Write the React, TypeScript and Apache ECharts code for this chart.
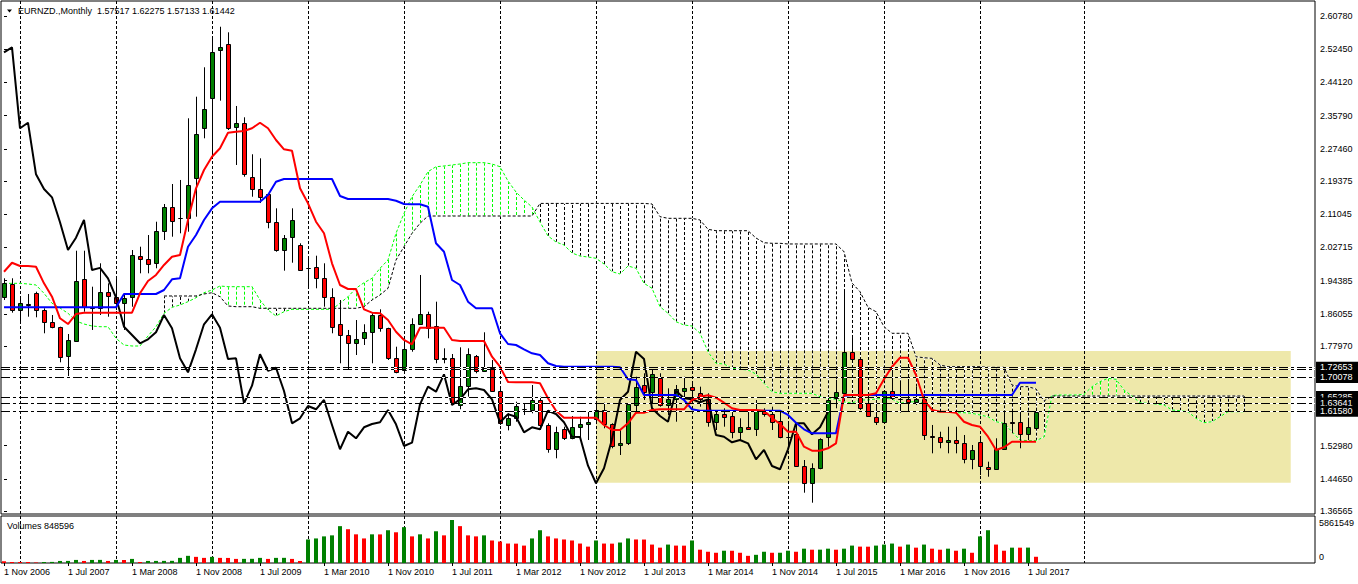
import React, { useEffect, useRef } from "react";
import * as echarts from "echarts";

// Monthly candles, index 0 = 1 Nov 2006 ... index 129 = 1 Aug 2017
const opens = [
  1.9034, 1.9345, 1.8700, 1.8834, 1.9134, 1.8700, 1.8407, 1.8266, 1.7546, 1.7930,
  1.9471, 1.8768, 1.8758, 1.9160, 1.9019, 1.8869, 1.9034, 2.0063, 1.9980, 1.9872,
  2.0683, 2.1278, 2.1000, 2.1017, 2.2005, 2.3260, 2.4013, 2.5225, 2.5368, 2.3285,
  2.3400, 2.2030, 2.1729, 2.1604, 2.0916, 2.0206, 2.0540, 2.0331, 1.9762, 1.9772,
  1.9496, 1.9019, 1.8342, 1.8073, 1.7865, 1.7990, 1.8141, 1.8575, 1.8241, 1.7488,
  1.7195, 1.7714, 1.8342, 1.8593, 1.8306, 1.7475, 1.7488, 1.6317, 1.6801, 1.7539,
  1.7177, 1.7237, 1.6668, 1.5815, 1.5983, 1.6225, 1.6191, 1.6442, 1.5815, 1.5205,
  1.5707, 1.5481, 1.5757, 1.5840, 1.5958, 1.6191, 1.5832, 1.5305, 1.5371, 1.6317,
  1.6818, 1.6650, 1.7001, 1.6309, 1.6459, 1.6668, 1.6776, 1.6625, 1.6459, 1.5882,
  1.6083, 1.6048, 1.5631, 1.5757, 1.5707, 1.6173, 1.6083, 1.5922, 1.5521, 1.5581,
  1.4793, 1.4352, 1.4728, 1.5521, 1.6485, 1.6610, 1.7654, 1.7471, 1.6374, 1.6023,
  1.5897, 1.6675, 1.6475, 1.6459, 1.6399, 1.6459, 1.5540, 1.5506, 1.5380, 1.5438,
  1.5355, 1.4954, 1.5395, 1.4768, 1.4703, 1.5205, 1.5882, 1.5882, 1.5581, 1.57517,
];
const highs = [
  1.9496, 1.9496, 1.9034, 1.9102, 1.9160, 1.8743, 1.8575, 1.8281, 1.8098, 2.0188,
  2.0188, 1.9285, 1.9872, 1.9370, 1.9496, 1.9119, 2.0206, 2.0289, 2.0582, 2.0916,
  2.1360, 2.1862, 2.1963, 2.3511, 2.4053, 2.4791, 2.5518, 2.5809, 2.5669, 2.3820,
  2.3536, 2.2608, 2.2507, 2.1629, 2.1252, 2.0582, 2.1252, 2.0374, 2.0038, 2.0063,
  1.9872, 1.9245, 1.8951, 1.8199, 1.8449, 1.8342, 1.8618, 1.8718, 1.8256, 1.7779,
  1.7948, 1.8492, 1.9579, 1.8658, 1.8909, 1.7739, 1.7596, 1.7764, 1.7739, 1.7571,
  1.8141, 1.7446, 1.6776, 1.6108, 1.6399, 1.6359, 1.6818, 1.6525, 1.5857, 1.5772,
  1.5772, 1.6040, 1.6023, 1.6148, 1.6374, 1.6374, 1.5857, 1.5689, 1.6359, 1.7026,
  1.7112, 1.7195, 1.7112, 1.6735, 1.6818, 1.7026, 1.6901, 1.6776, 1.6610, 1.6191,
  1.6234, 1.6191, 1.5983, 1.6191, 1.6442, 1.6234, 1.6274, 1.6148, 1.5857, 1.5857,
  1.4936, 1.4853, 1.5481, 1.6567, 1.6944, 1.9227, 1.8030, 1.7488, 1.6610, 1.6442,
  1.6693, 1.7237, 1.6901, 1.6901, 1.6776, 1.6485, 1.5815, 1.5646, 1.5772, 1.5772,
  1.5564, 1.5313, 1.5521, 1.4894, 1.5481, 1.6148, 1.6148, 1.6148, 1.5940, 1.62275,
];
const lows = [
  1.8951, 1.8633, 1.8407, 1.8532, 1.8517, 1.8116, 1.8241, 1.7388, 1.7044, 1.7905,
  1.8658, 1.8199, 1.8575, 1.8532, 1.8700, 1.8199, 1.8783, 1.9621, 1.9621, 1.9747,
  2.0457, 2.0540, 2.0625, 2.0665, 2.1042, 2.3009, 2.2547, 2.3953, 2.3217, 2.2339,
  2.2045, 2.1543, 2.1385, 2.0751, 2.0163, 1.9687, 1.9887, 1.9687, 1.9285, 1.9245,
  1.8783, 1.8116, 1.7363, 1.7195, 1.7571, 1.7822, 1.7363, 1.8156, 1.7446, 1.7112,
  1.7112, 1.7654, 1.8324, 1.7990, 1.7363, 1.7363, 1.6342, 1.6209, 1.6525, 1.7112,
  1.7152, 1.6650, 1.5815, 1.5680, 1.5897, 1.6066, 1.6108, 1.5689, 1.5119, 1.4979,
  1.5438, 1.5456, 1.5456, 1.5438, 1.5897, 1.5732, 1.5230, 1.5062, 1.5313, 1.6108,
  1.6442, 1.6359, 1.6274, 1.6066, 1.5897, 1.6442, 1.6359, 1.6274, 1.5772, 1.5689,
  1.5772, 1.5481, 1.5438, 1.5689, 1.5539, 1.6023, 1.5689, 1.5481, 1.5270, 1.4768,
  1.4116, 1.3865, 1.4703, 1.5270, 1.6234, 1.6442, 1.7446, 1.6191, 1.6023, 1.5815,
  1.5857, 1.6442, 1.6123, 1.6148, 1.6317, 1.5438, 1.5104, 1.5230, 1.5104, 1.5104,
  1.4853, 1.4703, 1.4560, 1.4517, 1.4685, 1.5187, 1.5606, 1.5230, 1.5438, 1.57133,
];
const closes = [
  1.9370, 1.8700, 1.8869, 1.8858, 1.8700, 1.8407, 1.8266, 1.7513, 1.7948, 1.9428,
  1.8768, 1.8760, 1.9145, 1.9052, 1.8869, 1.8994, 2.0081, 1.9973, 1.9855, 2.0683,
  2.1278, 2.0934, 2.1017, 2.1837, 2.3109, 2.3737, 2.5167, 2.5293, 2.3260, 2.3400,
  2.2106, 2.1737, 2.1528, 2.0901, 2.0206, 2.0515, 2.0959, 1.9704, 1.9757, 1.9496,
  1.9019, 1.8281, 1.8073, 1.7865, 1.7965, 1.8141, 1.8575, 1.8241, 1.7488, 1.7137,
  1.7714, 1.8342, 1.8593, 1.8256, 1.7471, 1.7488, 1.6359, 1.6801, 1.7589, 1.7177,
  1.7252, 1.6668, 1.5857, 1.5983, 1.6291, 1.6209, 1.6442, 1.5815, 1.5205, 1.5646,
  1.5481, 1.5757, 1.5840, 1.5882, 1.6191, 1.5832, 1.5288, 1.5371, 1.6334, 1.6776,
  1.6650, 1.7087, 1.6317, 1.6459, 1.6710, 1.6735, 1.6693, 1.6459, 1.5882, 1.6083,
  1.6023, 1.5631, 1.5757, 1.5707, 1.6173, 1.6091, 1.5882, 1.5521, 1.5515, 1.4793,
  1.4352, 1.4728, 1.5456, 1.6442, 1.6650, 1.7654, 1.7471, 1.6234, 1.6040, 1.5897,
  1.6675, 1.6485, 1.6462, 1.6384, 1.6459, 1.5564, 1.5521, 1.5380, 1.5438, 1.5355,
  1.4954, 1.5187, 1.4786, 1.4703, 1.5205, 1.5857, 1.5857, 1.5581, 1.5757, 1.61442,
];
const volumes = [
  237000, 140000, 140000, 140000, 70000, 140000, 150000, 279000, 285000, 419000,
  279000, 419000, 425000, 279000, 419000, 410000, 558000, 140000, 279000, 285000,
  290000, 295000, 698000, 977000, 837000, 698000, 837000, 698000, 690000, 558000,
  565000, 570000, 698000, 558000, 698000, 705000, 558000, 279000, 3210000, 3349000,
  3629000, 3768000, 5024000, 4605000, 3908000, 3349000, 3908000, 3900000, 4466000, 4187000,
  4885000, 3629000, 3908000, 3349000, 4326000, 3768000, 5861549, 5024000, 3768000, 3629000,
  3768000, 3070000, 2931000, 2652000, 2640000, 2373000, 3349000, 4466000, 3629000, 3349000,
  3210000, 3070000, 2652000, 2233000, 3070000, 2652000, 2640000, 2791000, 3349000, 3210000,
  3200000, 2512000, 2093000, 2512000, 2373000, 2365000, 3070000, 1814000, 1535000, 1396000,
  1675000, 1670000, 1396000, 977000, 1116000, 1535000, 1396000, 1400000, 1675000, 1535000,
  1954000, 1814000, 1820000, 1954000, 1814000, 1954000, 2373000, 2233000, 2225000, 2373000,
  2512000, 2652000, 2233000, 2512000, 2093000, 2512000, 1954000, 1814000, 1954000, 1675000,
  1954000, 1396000, 3629000, 4466000, 2512000, 1675000, 2093000, 2090000, 2100000, 848596,
];
// Ichimoku Tenkan-sen (red) and Kijun-sen (blue), index 0..129
const tenkan = [
  1.9661, 1.9887, 1.9805, 1.9805, 1.9787, 1.9370, 1.9034, 1.8492, 1.8349, 1.8600,
  1.8633, 1.8633, 1.8633, 1.8633, 1.8633, 1.8633, 1.8633, 1.9119, 1.9428, 1.9579,
  1.9830, 2.0038, 2.0081, 2.0959, 2.1754, 2.2214, 2.2547, 2.2758, 2.3150, 2.3175,
  2.3192, 2.3260, 2.3400, 2.3260, 2.2966, 2.2733, 2.2698, 2.1754, 2.1378, 2.0916,
  2.0625, 1.9872, 1.9328, 1.9227, 1.9227, 1.8718, 1.8633, 1.8618, 1.8449, 1.8156,
  1.7948, 1.7840, 1.8256, 1.8256, 1.8256, 1.8256, 1.7948, 1.7922, 1.7922, 1.7922,
  1.7922, 1.7528, 1.7277, 1.6894, 1.6886, 1.6886, 1.6886, 1.6860, 1.6485, 1.6173,
  1.5998, 1.5998, 1.5998, 1.5998, 1.5998, 1.5815, 1.5689, 1.5689, 1.5857, 1.6123,
  1.6123, 1.6191, 1.6208, 1.6208, 1.6208, 1.6208, 1.6442, 1.6525, 1.6560, 1.6500,
  1.6374, 1.6234, 1.6191, 1.6191, 1.6191, 1.6173, 1.5990, 1.5840, 1.5646, 1.5646,
  1.5270, 1.5170, 1.5170, 1.5230, 1.5355, 1.6567, 1.6567, 1.6567, 1.6567, 1.6610,
  1.6961, 1.7277, 1.7503, 1.7503, 1.7070, 1.6442, 1.6191, 1.6148, 1.6148, 1.6123,
  1.5897, 1.5815, 1.5772, 1.5521, 1.5187, 1.5255, 1.5395, 1.5395, 1.5395, 1.5395,
];
const kijun = [
  1.8768, 1.8768, 1.8768, 1.8768, 1.8768, 1.8768, 1.8768, 1.8768, 1.8768, 1.8768,
  1.8768, 1.8768, 1.8768, 1.8768, 1.8768, 1.9102, 1.9102, 1.9102, 1.9102, 1.9102,
  1.9202, 1.9471, 1.9496, 2.0289, 2.0582, 2.0959, 2.1252, 2.1418, 2.1418, 2.1418,
  2.1418, 2.1418, 2.1418, 2.1586, 2.1920, 2.1988, 2.1988, 2.1988, 2.1988, 2.1988,
  2.1988, 2.1988, 2.1561, 2.1486, 2.1486, 2.1486, 2.1486, 2.1486, 2.1486, 2.1443,
  2.1361, 2.1353, 2.1353, 2.1293, 2.0374, 2.0163, 1.9453, 1.9328, 1.8909, 1.8743,
  1.8743, 1.8743, 1.8116, 1.7847, 1.7822, 1.7714, 1.7614, 1.7571, 1.7363, 1.7295,
  1.7277, 1.7277, 1.7277, 1.7277, 1.7277, 1.7277, 1.7277, 1.7262, 1.6961, 1.6944,
  1.6567, 1.6567, 1.6567, 1.6567, 1.6567, 1.6442, 1.6208, 1.6173, 1.6173, 1.6173,
  1.6173, 1.6173, 1.6173, 1.6173, 1.6173, 1.6173, 1.6173, 1.6173, 1.6066, 1.5873,
  1.5707, 1.5606, 1.5606, 1.5606, 1.5606, 1.6550, 1.6567, 1.6567, 1.6567, 1.6567,
  1.6567, 1.6567, 1.6567, 1.6567, 1.6567, 1.6567, 1.6567, 1.6567, 1.6567, 1.6567,
  1.6567, 1.6567, 1.6567, 1.6567, 1.6567, 1.6567, 1.6567, 1.6876, 1.6876, 1.6876,
];
// Senkou Span A (lime dotted), index 0..155 (drawn 26 months ahead)
const senkouA = [
  1.9370, 1.9370, 1.9370, 1.9353, 1.9328, 1.9119, 1.8869, 1.8751, 1.8618, 1.8424,
  1.8349, 1.8299, 1.8281, 1.8281, 1.7990, 1.7822, 1.7797, 1.7797, 1.8048, 1.8281,
  1.8618, 1.8768, 1.8826, 1.8909, 1.9009, 1.9134, 1.9202, 1.9303, 1.9285, 1.9285,
  1.9285, 1.9285, 1.8951, 1.8700, 1.8550, 1.8658, 1.8718, 1.8718, 1.8718, 1.8718,
  1.8718, 1.8718, 1.8869, 1.9034, 1.9245, 1.9385, 1.9496, 1.9747, 1.9955, 2.0625,
  2.1127, 2.1543, 2.1837, 2.2171, 2.2296, 2.2314, 2.2339, 2.2364, 2.2397, 2.2397,
  2.2397, 2.2364, 2.2296, 2.1938, 2.1661, 2.1461, 2.1285, 2.0909, 2.0557, 2.0407,
  2.0332, 2.0131, 2.0055, 2.0030, 1.9998, 1.9855, 1.9661, 1.9604, 1.9805, 1.9747,
  1.9370, 1.9245, 1.8783, 1.8618, 1.8407, 1.8324, 1.8299, 1.8116, 1.7654, 1.7363,
  1.7345, 1.7237, 1.7212, 1.7195, 1.7094, 1.6860, 1.6650, 1.6610, 1.6610, 1.6610,
  1.6610, 1.6610, 1.6525, 1.6485, 1.6460, 1.6392, 1.6367, 1.6442, 1.6442, 1.6467,
  1.6485, 1.6467, 1.6359, 1.6392, 1.6399, 1.6359, 1.6191, 1.6148, 1.6148, 1.6123,
  1.6123, 1.6108, 1.6066, 1.6023, 1.5897, 1.5857, 1.5647, 1.5438, 1.5421, 1.5421,
  1.5514, 1.6557, 1.6567, 1.6567, 1.6567, 1.6587, 1.6776, 1.6901, 1.6986, 1.6961,
  1.6693, 1.6542, 1.6374, 1.6359, 1.6342, 1.6317, 1.6191, 1.6173, 1.6148, 1.5982,
  1.5872, 1.5897, 1.6023, 1.6148, 1.6148, 1.6148,
];
// Senkou Span B (black dotted), index 0..155; not drawn before index 20
const senkouB = [
  null, null, null, null, null, null, null, null, null, null,
  null, null, null, null, null, null, null, null, null, null,
  1.9052, 1.9052, 1.9052, 1.9052, 1.9052, 1.9102, 1.9134, 1.9034, 1.8801, 1.8783,
  1.8783, 1.8783, 1.8743, 1.8743, 1.8743, 1.8743, 1.8743, 1.8743, 1.8743, 1.8743,
  1.8743, 1.8743, 1.8743, 1.8743, 1.8743, 1.8783, 1.8951, 1.9077, 1.9245, 1.9955,
  2.0289, 2.0625, 2.0876, 2.1059, 2.1059, 2.1059, 2.1059, 2.1059, 2.1059, 2.1059,
  2.1059, 2.1059, 2.1059, 2.1059, 2.1059, 2.1059, 2.1059, 2.1375, 2.1375, 2.1375,
  2.1375, 2.1375, 2.1375, 2.1375, 2.1375, 2.1375, 2.1375, 2.1375, 2.1375, 2.1375,
  2.1375, 2.1361, 2.1042, 2.1001, 2.1001, 2.1001, 2.1001, 2.0959, 2.0726, 2.0690,
  2.0690, 2.0690, 2.0690, 2.0690, 2.0507, 2.0389, 2.0374, 2.0374, 2.0357, 2.0357,
  2.0357, 2.0357, 2.0357, 2.0357, 2.0357, 2.0163, 1.9378, 1.9160, 1.8768, 1.8658,
  1.8281, 1.8116, 1.8116, 1.8116, 1.7528, 1.7503, 1.7488, 1.7320, 1.7277, 1.7277,
  1.7277, 1.7277, 1.7277, 1.7262, 1.7262, 1.7262, 1.6818, 1.6776, 1.6776, 1.6718,
  1.6417, 1.6542, 1.6542, 1.6542, 1.6542, 1.6542, 1.6542, 1.6542, 1.6542, 1.6542,
  1.6542, 1.6542, 1.6542, 1.6542, 1.6542, 1.6542, 1.6542, 1.6542, 1.6542, 1.6542,
  1.6542, 1.6542, 1.6542, 1.6542, 1.6542, 1.6542,
];
// horizontal price levels (dash-dot lines with black price boxes)
const levels = [1.72653, 1.7208, 1.70078, 1.65285, 1.63641, 1.6158];
const levelLabelOrder = [1, 2, 0, 3, 4, 5];
// highlighted zone (rectangle object): from bar index to bar index, price bottom/top
const zoneIndex = [74, 160.84];
const zonePrice = [1.4367, 1.7672];
// price-axis tick labels
const priceTicks = [
  2.6078, 2.5245, 2.4412, 2.3579, 2.2746, 2.19375, 2.11045, 2.02715, 1.94385,
  1.86055, 1.7797, 1.5298, 1.4465, 1.36565,
];
// time-axis labels, every 8 bars from index 0
const timeLabels = [
  "1 Nov 2006", "1 Jul 2007", "1 Mar 2008", "1 Nov 2008", "1 Jul 2009", "1 Mar 2010",
  "1 Nov 2010", "1 Jul 2011", "1 Mar 2012", "1 Nov 2012", "1 Jul 2013", "1 Mar 2014",
  "1 Nov 2014", "1 Jul 2015", "1 Mar 2016", "1 Nov 2016", "1 Jul 2017",
];
// vertical grid lines (first bar of each year; last one is in the projected area)
const yearGridIndex = [2, 14, 26, 38, 50, 62, 74, 86, 98, 110, 122, 135];

const FONT = "'Liberation Sans', Arial, sans-serif";
const GREEN = "#008000";
const RED = "#FF0000";
const LIME = "#00FF00";

export default function App() {
  const ref = useRef<HTMLDivElement>(null);

  useEffect(() => {
    document.body.style.margin = "0";
    const chart = echarts.init(ref.current as HTMLDivElement, null, { renderer: "svg" });

    const X_MIN = -0.375;
    const X_MAX = 163.875;
    const Y_MIN = 1.35812;
    const Y_MAX = 2.64544;
    const volMax = Math.max(...volumes);
    const VOL_AXIS_MAX = (volMax * 47) / 43;

    const candleData = opens.map((o, i) => [i, o, closes[i], lows[i], highs[i]]);
    const volData = volumes.map((v, i) => [i, v, i > 0 && v > volumes[i - 1] ? 1 : 0]);
    const hatchData: number[][] = [];
    senkouA.forEach((a, i) => {
      const b = senkouB[i];
      if (b != null) hatchData.push([i, a, b]);
    });
    const aData = senkouA.map((v, i) => [i, v]);
    const bData = senkouB.map((v, i) => [i, v]).filter((d) => d[1] != null);
    const chikouData = closes.slice(26).map((v, k) => [k, v]);
    const labelIdx = timeLabels.map((_, k) => k * 8);

    const vGrid = (gridVal: number) => (params: any, api: any) => {
      const cs = params.coordSys;
      const x = Math.round(api.coord([api.value(0), gridVal])[0]) + 0.5;
      return {
        type: "line",
        shape: { x1: x, y1: cs.y, x2: x, y2: cs.y + cs.height },
        style: { stroke: "#000", lineWidth: 1, lineDash: [3, 2] },
      };
    };

    const option: any = {
      animation: false,
      backgroundColor: "#fff",
      textStyle: { fontFamily: FONT, fontSize: 9 },
      grid: [
        { left: 1, top: 1, width: 1314, height: 513, show: true, borderColor: "#000", borderWidth: 1, backgroundColor: "#fff" },
        { left: 1, top: 516, width: 1314, height: 47, show: true, borderColor: "#000", borderWidth: 1, backgroundColor: "#fff" },
      ],
      xAxis: [
        { type: "value", gridIndex: 0, min: X_MIN, max: X_MAX, show: false },
        {
          type: "value", gridIndex: 1, min: X_MIN, max: X_MAX,
          axisLine: { show: false },
          splitLine: { show: false },
          axisTick: { show: true, customValues: labelIdx, length: 3, lineStyle: { color: "#000" } },
          axisLabel: {
            customValues: labelIdx,
            formatter: (v: number) => timeLabels[Math.round(v / 8)] || "",
            align: "left", margin: 4, color: "#000", fontSize: 9, fontFamily: FONT,
          },
        },
      ],
      yAxis: [
        {
          type: "value", gridIndex: 0, position: "right", min: Y_MIN, max: Y_MAX,
          axisLine: { show: false },
          splitLine: { show: false },
          axisTick: { show: true, customValues: priceTicks, length: 3, lineStyle: { color: "#000" } },
          axisLabel: {
            customValues: priceTicks,
            formatter: (v: number) => v.toFixed(5),
            margin: 5, color: "#000", fontSize: 9, fontFamily: FONT,
          },
        },
        { type: "value", gridIndex: 1, min: 0, max: VOL_AXIS_MAX, show: false },
      ],
      series: [
        {
          type: "custom", xAxisIndex: 0, yAxisIndex: 0, z: 1, silent: true,
          data: [[zoneIndex[0], zoneIndex[1], zonePrice[0], zonePrice[1]]],
          renderItem: (params: any, api: any) => {
            const p0 = api.coord([api.value(0), api.value(3)]);
            const p1 = api.coord([api.value(1), api.value(2)]);
            return {
              type: "rect",
              shape: { x: p0[0], y: p0[1], width: p1[0] - p0[0], height: p1[1] - p0[1] },
              style: { fill: "#EEE8AA" },
            };
          },
        },
        {
          type: "custom", xAxisIndex: 0, yAxisIndex: 0, z: 2, silent: true,
          data: yearGridIndex.map((i) => [i, Y_MIN]),
          renderItem: vGrid(Y_MIN),
        },
        {
          type: "custom", xAxisIndex: 1, yAxisIndex: 1, z: 2, silent: true,
          data: yearGridIndex.map((i) => [i, 0]),
          renderItem: vGrid(0),
        },
        {
          type: "custom", xAxisIndex: 0, yAxisIndex: 0, z: 3, silent: true,
          data: hatchData,
          renderItem: (params: any, api: any) => {
            const a = api.value(1);
            const b = api.value(2);
            const pa = api.coord([api.value(0), a]);
            const pb = api.coord([api.value(0), b]);
            const x = Math.round(pa[0]) + 0.5;
            const shape = { x1: x, y1: pa[1], x2: x, y2: pb[1] };
            return {
              type: "group",
              children: [
                { type: "line", shape, style: { stroke: "#fff", lineWidth: 1 } },
                { type: "line", shape, style: { stroke: a > b ? LIME : "#000", lineWidth: 1, lineDash: [3, 2] } },
              ],
            };
          },
        },
        { type: "line", xAxisIndex: 0, yAxisIndex: 0, z: 4, silent: true, data: aData, symbol: "none", lineStyle: { color: "#fff", width: 1 } },
        { type: "line", xAxisIndex: 0, yAxisIndex: 0, z: 4, silent: true, data: bData, symbol: "none", lineStyle: { color: "#fff", width: 1 } },
        { type: "line", xAxisIndex: 0, yAxisIndex: 0, z: 5, silent: true, data: aData, symbol: "none", lineStyle: { color: LIME, width: 1, type: [3, 2] } },
        { type: "line", xAxisIndex: 0, yAxisIndex: 0, z: 5, silent: true, data: bData, symbol: "none", lineStyle: { color: "#000", width: 1, type: [3, 2] } },
        {
          type: "custom", xAxisIndex: 0, yAxisIndex: 0, z: 6, silent: true,
          data: candleData,
          renderItem: (params: any, api: any) => {
            const i = api.value(0);
            const o = api.value(1);
            const c = api.value(2);
            const pO = api.coord([i, o]);
            const pC = api.coord([i, c]);
            const pL = api.coord([i, api.value(3)]);
            const pH = api.coord([i, api.value(4)]);
            const x = Math.round(pO[0]);
            const top = Math.round(Math.min(pO[1], pC[1]));
            const bot = Math.round(Math.max(pO[1], pC[1]));
            return {
              type: "group",
              children: [
                { type: "line", shape: { x1: x + 0.5, y1: pH[1], x2: x + 0.5, y2: pL[1] }, style: { stroke: "#000", lineWidth: 1 } },
                {
                  type: "rect",
                  shape: { x: x - 2 + 0.5, y: top + 0.5, width: 4, height: Math.max(bot - top, 0) },
                  style: { fill: c >= o ? GREEN : RED, stroke: "#000", lineWidth: 1 },
                },
              ],
            };
          },
        },
        {
          type: "custom", xAxisIndex: 1, yAxisIndex: 1, z: 6, silent: true,
          data: volData,
          renderItem: (params: any, api: any) => {
            const p = api.coord([api.value(0), api.value(1)]);
            const p0 = api.coord([api.value(0), 0]);
            const x = Math.round(p[0]);
            return {
              type: "rect",
              shape: { x: x - 2, y: p[1], width: 4, height: p0[1] - p[1] },
              style: { fill: api.value(2) ? GREEN : RED },
            };
          },
        },
        { type: "line", xAxisIndex: 0, yAxisIndex: 0, z: 7, silent: true, data: chikouData, symbol: "none", lineStyle: { color: "#000", width: 2 } },
        { type: "line", xAxisIndex: 0, yAxisIndex: 0, z: 7, silent: true, data: kijun.map((v, i) => [i, v]), symbol: "none", lineStyle: { color: "#0000FF", width: 2 } },
        { type: "line", xAxisIndex: 0, yAxisIndex: 0, z: 7, silent: true, data: tenkan.map((v, i) => [i, v]), symbol: "none", lineStyle: { color: RED, width: 2 } },
        {
          type: "custom", xAxisIndex: 0, yAxisIndex: 0, z: 8, silent: true,
          data: levels.map((v) => [0, v]),
          renderItem: (params: any, api: any) => {
            const cs = params.coordSys;
            const y = Math.round(api.coord([0, api.value(1)])[1]) + 0.5;
            const shape = { x1: cs.x, y1: y, x2: cs.x + cs.width, y2: y };
            return {
              type: "group",
              children: [
                { type: "line", shape, style: { stroke: "#fff", lineWidth: 1 } },
                { type: "line", shape, style: { stroke: "#000", lineWidth: 1, lineDash: [9, 3, 3, 3] } },
              ],
            };
          },
        },
      ],
    };
    chart.setOption(option);

    const last = opens.length - 1;
    const header =
      "EURNZD.,Monthly  " +
      [opens[last], highs[last], lows[last], closes[last]].map((v) => v.toFixed(5)).join(" ");
    const g: any[] = [
      { type: "polygon", shape: { points: [[7, 9.5], [12, 9.5], [9.5, 12.5]] }, style: { fill: "#000" } },
      { type: "text", x: 18, y: 11, style: { text: header, fill: "#000", fontSize: 9, fontFamily: FONT, verticalAlign: "middle" } },
      { type: "text", x: 7, y: 526, style: { text: "Volumes " + volumes[last], fill: "#000", fontSize: 9, fontFamily: FONT, verticalAlign: "middle" } },
    ];
    const yVolMax = chart.convertToPixel({ yAxisIndex: 1 }, volMax) as number;
    const yVol0 = chart.convertToPixel({ yAxisIndex: 1 }, 0) as number;
    g.push({ type: "text", x: 1319, y: yVolMax + 3, style: { text: String(volMax), fill: "#000", fontSize: 9, fontFamily: FONT, verticalAlign: "middle" } });
    g.push({ type: "text", x: 1319, y: yVol0 - 6, style: { text: "0", fill: "#000", fontSize: 9, fontFamily: FONT, verticalAlign: "middle" } });
    levelLabelOrder.forEach((k) => {
      const v = levels[k];
      const y = chart.convertToPixel({ yAxisIndex: 0 }, v) as number;
      g.push({ type: "rect", shape: { x: 1316, y: y - 5.5, width: 42, height: 11 }, style: { fill: "#000" } });
      g.push({ type: "text", x: 1320, y, style: { text: v.toFixed(5), fill: "#fff", fontSize: 9, fontFamily: FONT, verticalAlign: "middle" } });
    });
    chart.setOption({ graphic: g });

    return () => chart.dispose();
  }, []);

  return (
    <div
      ref={ref}
      style={{ position: "fixed", left: 0, top: 0, width: 1358, height: 584, background: "#fff" }}
    />
  );
}
